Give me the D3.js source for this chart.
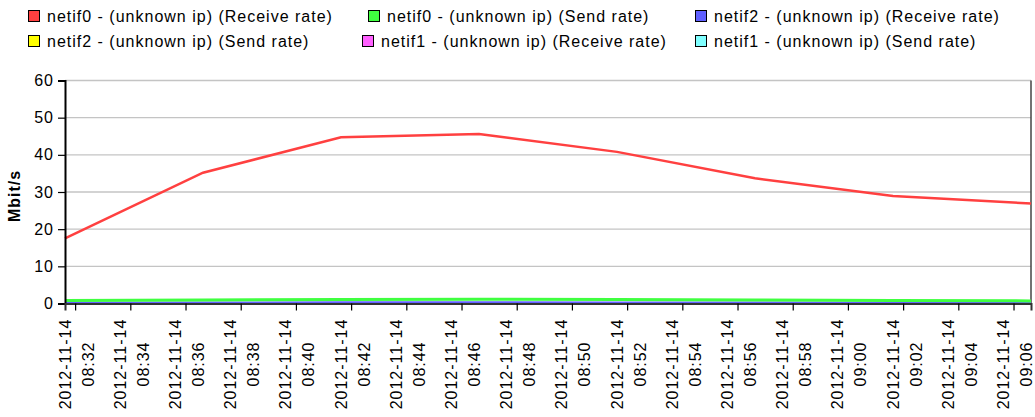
<!DOCTYPE html>
<html>
<head>
<meta charset="utf-8">
<script src="https://cdn.jsdelivr.net/npm/d3@7"></script>
<style>
  body { margin: 0; background: #fff; }
  svg text { font-family: "Liberation Sans", Arial, sans-serif; font-size: 16px; letter-spacing: 1px; fill: #000; }
</style>
</head>
<body>
<svg id="chart" width="1035" height="417"></svg>
<script>
// sample times (every 5 minutes)
const times = ["2012-11-14 08:31:38", "2012-11-14 08:36:38", "2012-11-14 08:41:38", "2012-11-14 08:46:38",
               "2012-11-14 08:51:38", "2012-11-14 08:56:38", "2012-11-14 09:01:38", "2012-11-14 09:06:38"];

// Mbit/s per series
const netif0Receive = [17.5, 35.2, 44.7, 45.6, 40.8, 33.7, 28.9, 26.9];
const netif0Send    = [0.8, 0.95, 1.1, 1.15, 1.1, 0.95, 0.8, 0.7];
const netif2Receive = [0.15, 0.2, 0.25, 0.25, 0.2, 0.2, 0.15, 0.1];
const netif2Send    = [0, 0, 0, 0, 0, 0, 0, 0];
const netif1Receive = [0, 0, 0, 0, 0, 0, 0, 0];
const netif1Send    = [0, 0, 0, 0, 0, 0, 0, 0];

const seriesNames = ["netif0 - (unknown ip) (Receive rate)", "netif0 - (unknown ip) (Send rate)",
                     "netif2 - (unknown ip) (Receive rate)", "netif2 - (unknown ip) (Send rate)",
                     "netif1 - (unknown ip) (Receive rate)", "netif1 - (unknown ip) (Send rate)"];
const seriesColors = ["#ff4040", "#40ff40", "#6060ff", "#ffff00", "#ff60ff", "#80ffff"];
const seriesValues = [netif0Receive, netif0Send, netif2Receive, netif2Send, netif1Receive, netif1Send];

const yTicks = [0, 10, 20, 30, 40, 50, 60];
const yTitle = "Mbit/s";

const svg = d3.select("#chart");
const plotLeft = 65, plotRight = 1031, plotTop = 80.5, plotBottom = 303.5;

const parse = d3.timeParse("%Y-%m-%d %H:%M:%S");
const dates = times.map(parse);

const x = d3.scaleTime().domain(d3.extent(dates)).range([plotLeft, plotRight]);
const y = d3.scaleLinear().domain([0, 60]).range([plotBottom, plotTop]);

// gridlines
svg.append("g")
    .selectAll("line")
    .data(yTicks.filter(d => d > 0))
    .enter().append("line")
    .attr("x1", plotLeft).attr("x2", plotRight)
    .attr("y1", d => y(d)).attr("y2", d => y(d))
    .attr("stroke", "#c4c4c4")
    .attr("stroke-width", 1.3);

// right border
svg.append("line")
    .attr("x1", plotRight).attr("x2", plotRight)
    .attr("y1", plotTop).attr("y2", plotBottom)
    .attr("stroke", "#444").attr("stroke-width", 1.5);

// lines, drawn last series first so the red one sits on top
const line = d3.line()
    .x((d, i) => x(dates[i]))
    .y(d => y(d));

svg.append("g")
    .selectAll("path")
    .data(seriesValues.map((v, i) => ({ v, c: seriesColors[i] })).reverse())
    .enter().append("path")
    .attr("d", d => line(d.v))
    .attr("fill", "none")
    .attr("stroke", d => d.c)
    .attr("stroke-width", (d, i) => i === 4 ? 3 : 2.5);

// y axis
const yAxis = svg.append("g")
    .attr("transform", `translate(${plotLeft},0)`)
    .call(d3.axisLeft(y).tickValues(yTicks).tickSize(7).tickPadding(4));
yAxis.select(".domain").attr("stroke", "#000").attr("stroke-width", 2);
yAxis.selectAll(".tick line").attr("stroke", "#000").attr("stroke-width", 1.2);
yAxis.selectAll(".tick text")
    .attr("font-size", null).attr("font-family", null)
    .attr("x", -11);

svg.append("text")
    .attr("transform", `translate(20,${(plotTop + plotBottom) / 2 + 4}) rotate(-90)`)
    .attr("text-anchor", "middle")
    .attr("font-weight", "bold")
    .text(yTitle);

// x axis
const xAxis = svg.append("g")
    .attr("transform", `translate(0,${plotBottom})`)
    .call(d3.axisBottom(x).ticks(d3.timeMinute.every(2)).tickSize(7).tickFormat(""));
xAxis.select(".domain").attr("stroke", "#333").attr("stroke-width", 2);
xAxis.selectAll(".tick line").attr("stroke", "#000").attr("stroke-width", 1.2);

const fmtDate = d3.timeFormat("%Y-%m-%d");
const fmtTime = d3.timeFormat("%H:%M");
xAxis.selectAll(".tick").each(function(d) {
    const t = d3.select(this);
    t.append("text")
        .attr("transform", `translate(-5,${364 - plotBottom}) rotate(-90)`)
        .attr("text-anchor", "middle")
        .text(fmtDate(d));
    t.append("text")
        .attr("transform", `translate(18,${364 - plotBottom}) rotate(-90)`)
        .attr("text-anchor", "middle")
        .text(fmtTime(d));
});

// legend, flowed in two rows of three
const legendX = [[28, 368, 695], [28, 362, 695]];
const legendY = [16, 41];
const legend = svg.append("g");
seriesNames.forEach((name, i) => {
    const row = Math.floor(i / 3), col = i % 3;
    const g = legend.append("g")
        .attr("transform", `translate(${legendX[row][col]},${legendY[row]})`);
    g.append("rect")
        .attr("x", 0.5).attr("y", -5.5)
        .attr("width", 11).attr("height", 11)
        .attr("fill", seriesColors[i])
        .attr("stroke", "#000");
    g.append("text")
        .attr("x", 19).attr("y", 5.5)
        .text(name);
});
</script>
</body>
</html>
